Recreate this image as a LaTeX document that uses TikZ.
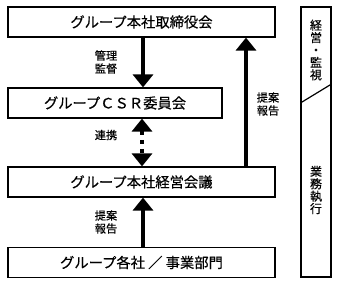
\documentclass[tikz,border=0pt]{standalone}
\usepackage{fontspec}
\setmainfont{Noto Sans CJK JP}[FakeBold=0.5]
\usetikzlibrary{arrows.meta,positioning,calc}
\tikzset{
  orgblk/.style={draw,rectangle,line width=1.2pt,minimum width=267pt,minimum height=30pt,inner sep=0pt,font=\fontsize{14.3}{15}\selectfont},
  colblk/.style={draw,rectangle,line width=1.2pt,minimum width=30pt,minimum height=270pt,inner sep=0pt},
  bigarr/.style={line width=3.6pt,-{Triangle[width=20pt,length=13pt]}},
  dotarr/.style={line width=3.6pt,dash pattern=on 4.5pt off 4.5pt,{Triangle[width=20pt,length=13pt]}-{Triangle[width=20pt,length=13pt]}},
  lbl/.style={font=\fontsize{11.2}{13}\selectfont,align=center,inner sep=0pt},
  vlbl/.style={font=\fontsize{12}{12.4}\selectfont,align=center,inner sep=0pt}
}
\begin{document}
\begin{tikzpicture}[x=1pt,y=1pt]
  \useasboundingbox (0,0) rectangle (338,284);
  % Organisation boxes
  \node[orgblk] (board) at (141.5,262) {グループ本社取締役会};
  \node[orgblk, minimum width=214pt] (csr) at (115,181) {グループＣＳＲ委員会};
  \node[orgblk] (mgmt) at (141.5,102) {グループ本社経営会議};
  \node[orgblk] (units) at (141.5,21.5) {グループ各社 ／ 事業部門};

  % Right column
  \node[colblk] (col) at (316,142) {};
  \coordinate (dgl) at (col.west |- 0,181);
  \coordinate (dgr) at (col.east |- 0,200);
  \draw[line width=1.2pt] (dgl) -- (dgr);
  \node[vlbl] (supv) at (316,234) {経\\営\\・\\監\\視};
  \node[vlbl] (exec) at (316,94) {業\\務\\執\\行};

  % Connections
  \draw[bigarr] (board.south -| 143,0) -- (csr.north -| 143,0);
  \draw[dotarr] (csr.south -| 142,0) -- (mgmt.north -| 142,0);
  \draw[bigarr] (units.north -| 143,0) -- (mgmt.south -| 143,0);
  \draw[bigarr] (mgmt.north -| 246,0) -- (board.south -| 246,0);

  % Labels
  \node[lbl] (lblkk) at (106,222) {管理\\監督};
  \node[lbl] (lblrk) at (106,149) {連携};
  \node[lbl] (lblta) at (268,180) {提案\\報告};
  \node[lbl] (lbltb) at (106,62) {提案\\報告};
\end{tikzpicture}
\end{document}
